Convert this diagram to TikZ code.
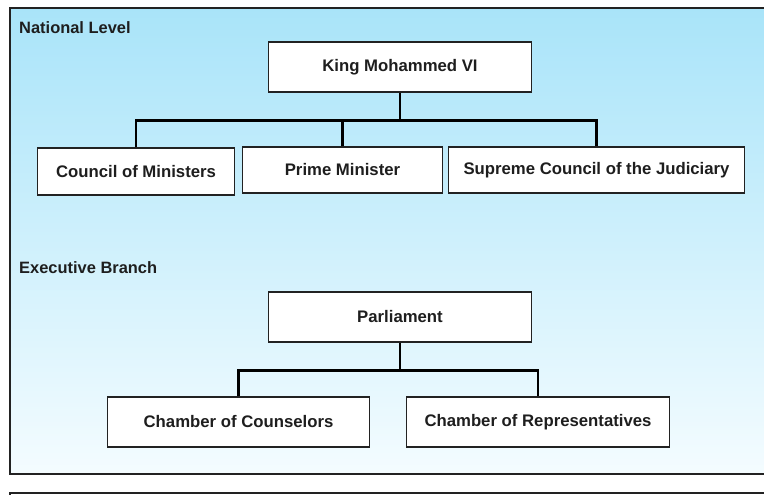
\documentclass[tikz,border=0pt]{standalone}
\usepackage{fontspec}
\setmainfont{Liberation Sans}
\usetikzlibrary{calc}
\definecolor{skytop}{HTML}{A9E4F9}
\definecolor{skybot}{HTML}{F4FCFF}
\definecolor{inkgray}{HTML}{1E1E1E}
\definecolor{rulegray}{HTML}{222222}

\begin{document}
\begin{tikzpicture}[x=1bp, y=-1bp,
  orgbox/.style={draw=rulegray, line width=1.6pt, fill=white, text=inkgray,
    font=\bfseries\fontsize{16.8}{19}\selectfont, inner sep=0pt, align=center},
  section/.style={text=inkgray, font=\bfseries\fontsize{16.5}{19}\selectfont, anchor=west, inner sep=0pt},
  bus/.style={draw=black, line width=2.6pt}]

\useasboundingbox (0,0) rectangle (764,495);

% Background panel
\shade[top color=skytop, bottom color=skybot] (10,8) rectangle (790,474);
\draw[rulegray, line width=2.4pt] (790,8) -- (10,8) -- (10,474) -- (790,474);
% start of the next panel below
\draw[rulegray, line width=1.6pt] (10,510) -- (10,493) -- (790,493);

% Section titles
\node[section] (national) at (19,28) {National Level};
\node[section] (executive) at (19,268) {Executive Branch};

% Top level
\node[orgbox, minimum width=264, minimum height=50] (king) at (400,67) {King Mohammed VI};
\node[orgbox, minimum width=198, minimum height=47] (council) at (136,171.5) {Council of Ministers};
\node[orgbox, minimum width=201, minimum height=46] (pm) at (342.5,170) {Prime Minister};
\node[orgbox, minimum width=297, minimum height=46] (supreme) at (596.5,170) {Supreme Council of the Judiciary};

% Connectors from the king
\coordinate (kbus) at ($(king.south)+(0,28)$);
\draw[bus] (king.south) -- (kbus);
\draw[bus] (council.north) |- (kbus);
\draw[bus] (supreme.north) |- (kbus);
\draw[bus] (pm.north) -- (pm.north |- kbus);

% Parliament
\node[orgbox, minimum width=264, minimum height=50] (parl) at (400,317) {Parliament};
\node[orgbox, minimum width=263, minimum height=50] (counsel) at (238.5,422) {Chamber of Counselors};
\node[orgbox, minimum width=264, minimum height=50] (reps) at (538,422) {Chamber of Representatives};

% Connectors from parliament
\coordinate (pbus) at ($(parl.south)+(0,28)$);
\draw[bus] (parl.south) -- (pbus);
\draw[bus] (counsel.north) |- (pbus);
\draw[bus] (reps.north) |- (pbus);

\end{tikzpicture}
\end{document}
